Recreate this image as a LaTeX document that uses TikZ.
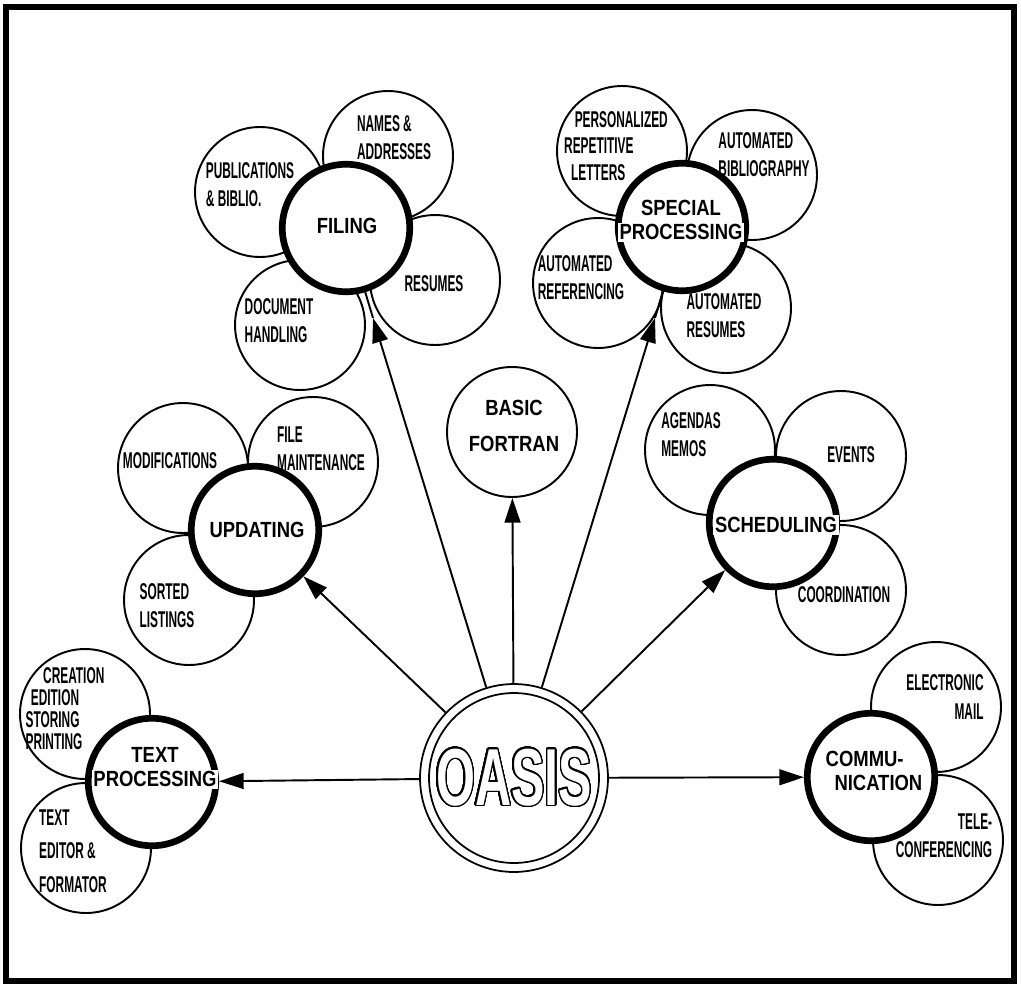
\documentclass[tikz,border=0pt]{standalone}
\usepackage{fontspec}
\usepackage{contour}
\setmainfont{Liberation Sans}
\newfontfamily\satfont[FakeStretch=0.52]{Liberation Sans}
\newfontfamily\hubfont[FakeStretch=0.84]{Liberation Sans}
\newfontfamily\oasisfont[FakeStretch=0.62]{Liberation Sans}
\usetikzlibrary{arrows.meta}
\contourlength{0.8pt}
\contournumber{32}
\newcommand{\wb}[1]{{\setlength{\fboxsep}{1pt}\colorbox{white}{#1}}}

\tikzset{
  sat/.style={circle, draw, line width=1.1pt, fill=white, minimum size=2.6cm, inner sep=0pt},
  hub/.style={circle, draw, line width=3.8pt, fill=white, minimum size=2.55cm, inner sep=0pt},
  sattext/.style={font=\satfont\bfseries\fontsize{13pt}{16pt}\selectfont, align=left, inner sep=0pt},
  hubtext/.style={font=\hubfont\bfseries\fontsize{12.5pt}{14pt}\selectfont, align=center, inner sep=0pt},
  arr/.style={line width=1.1pt, -{Triangle[length=14pt,width=9pt]}},
}

\begin{document}
\begin{tikzpicture}[x=0.02cm,y=-0.02cm]
	\useasboundingbox (0,0) rectangle (1021,987);
	%frame
		\draw[line width=3.6pt] (6,7) rectangle (1014,981);
	%satellites
		\node[sat] (names)    at (388,156) {};
		\node[sat] (publ)     at (260,192) {};
		\node[sat] (resumes)  at (435,280) {};
		\node[sat] (docs)     at (300,325) {};
		\node[sat] (letters)  at (622,151) {};
		\node[sat] (biblio)   at (752,175) {};
		\node[sat] (referenc) at (598,283) {};
		\node[sat] (autores)  at (726,308) {};
		\node[sat] (modif)    at (183,468) {};
		\node[sat] (filemnt)  at (313,462) {};
		\node[sat] (sorted)   at (189,600) {};
		\node[sat] (agendas)  at (710,450) {};
		\node[sat] (events)   at (841,456) {};
		\node[sat] (coord)    at (841,590) {};
		\node[sat] (creation) at (85,714) {};
		\node[sat] (editor)   at (86,848) {};
		\node[sat] (email)    at (936,707) {};
		\node[sat] (telecon)  at (938,840) {};
	%hubs
		\node[hub] (filing)   at (346,228) {};
		\node[hub] (special)  at (682,227) {};
		\node[hub] (updating) at (255,530) {};
		\node[hub] (sched)    at (773,523) {};
		\node[hub] (textproc) at (152,782) {};
		\node[hub] (comm)     at (871,777) {};
		\node[sat] (basic)    at (512,432) {};
	%oasis
		\node[circle, draw, line width=1pt, minimum size=3.76cm] (oasis) at (514,778) {};
		\node[circle, draw, line width=1pt, minimum size=3.4cm, inner sep=0pt,
		      font=\oasisfont\bfseries\fontsize{46pt}{46pt}\selectfont] (oasis-in) at (514,778)
		      {\contour{black}{\textcolor{white}{OASIS}}};
	%connectors
		\coordinate (filtip) at (373,318);
		\coordinate (spectip) at (655,318);
		\draw[arr] (oasis) -- (filtip);
		\draw[line width=1.1pt] (filtip) -- (filing);
		\draw[arr] (oasis) -- (spectip);
		\draw[line width=1.1pt] (spectip) -- (special);
		\draw[arr] (oasis) -- (basic);
		\draw[arr] (oasis) -- (updating);
		\draw[arr] (oasis) -- (sched);
		\draw[arr] (oasis) -- (textproc);
		\draw[arr] (oasis) -- (comm);
	%hub labels
		\node[hubtext] (filing-l)   at (347,226) {\wb{FILING}};
		\node[hubtext] (special-l)  at (681,220) {\wb{SPECIAL}\\\wb{PROCESSING}};
		\node[hubtext] (updating-l) at (257,530) {\wb{UPDATING}};
		\node[hubtext] (sched-l)    at (776,525) {\wb{SCHEDULING}};
		\node[hubtext] (textproc-l) at (155,767) {\wb{TEXT}\\\wb{PROCESSING}};
		\node[hubtext, align=left] (comm-l) at (874,771) {\wb{COMMU-}\\\hspace*{5pt}\wb{NICATION}};
		\node[hubtext, font=\hubfont\bfseries\fontsize{12.5pt}{20pt}\selectfont] (basic-l) at (514,426) {BASIC\\FORTRAN};
	%satellite labels
		\node[sattext] (names-l)    at (394,138) {NAMES \&\\ADDRESSES};
		\node[sattext] (publ-l)     at (250,185) {PUBLICATIONS\\\& BIBLIO.};
		\node[sattext] (resumes-l)  at (434,284) {RESUMES};
		\node[sattext] (docs-l)     at (279,321) {DOCUMENT\\HANDLING};
		\node[sattext, font=\satfont\bfseries\fontsize{13pt}{15pt}\selectfont] (letters-l) at (616,146)
		      {\hspace*{6pt}PERSONALIZED\\REPETITIVE\\\hspace*{4pt}LETTERS};
		\node[sattext] (biblio-l)   at (764,155) {AUTOMATED\\BIBLIOGRAPHY};
		\node[sattext] (referenc-l) at (581,278) {AUTOMATED\\REFERENCING};
		\node[sattext] (autores-l)  at (724,316) {AUTOMATED\\RESUMES};
		\node[sattext] (modif-l)    at (170,461) {MODIFICATIONS};
		\node[sattext] (filemnt-l)  at (321,449) {FILE\\MAINTENANCE};
		\node[sattext] (sorted-l)   at (167,606) {SORTED\\LISTINGS};
		\node[sattext] (agendas-l)  at (691,435) {AGENDAS\\MEMOS};
		\node[sattext] (events-l)   at (851,455) {EVENTS};
		\node[sattext] (coord-l)    at (844,595) {COORDINATION};
		\node[sattext, font=\satfont\bfseries\fontsize{13pt}{12.5pt}\selectfont] (creation-l) at (65,709)
		      {\hspace*{10pt}CREATION\\\hspace*{3pt}EDITION\\STORING\\PRINTING};
		\node[sattext, font=\satfont\bfseries\fontsize{13pt}{19pt}\selectfont] (editor-l) at (73,851)
		      {TEXT\\EDITOR \&\\FORMATOR};
		\node[sattext, align=right] (email-l)   at (945,697) {ELECTRONIC\\MAIL};
		\node[sattext, align=right] (telecon-l) at (944,836) {TELE-\\CONFERENCING};
\end{tikzpicture}
\end{document}
